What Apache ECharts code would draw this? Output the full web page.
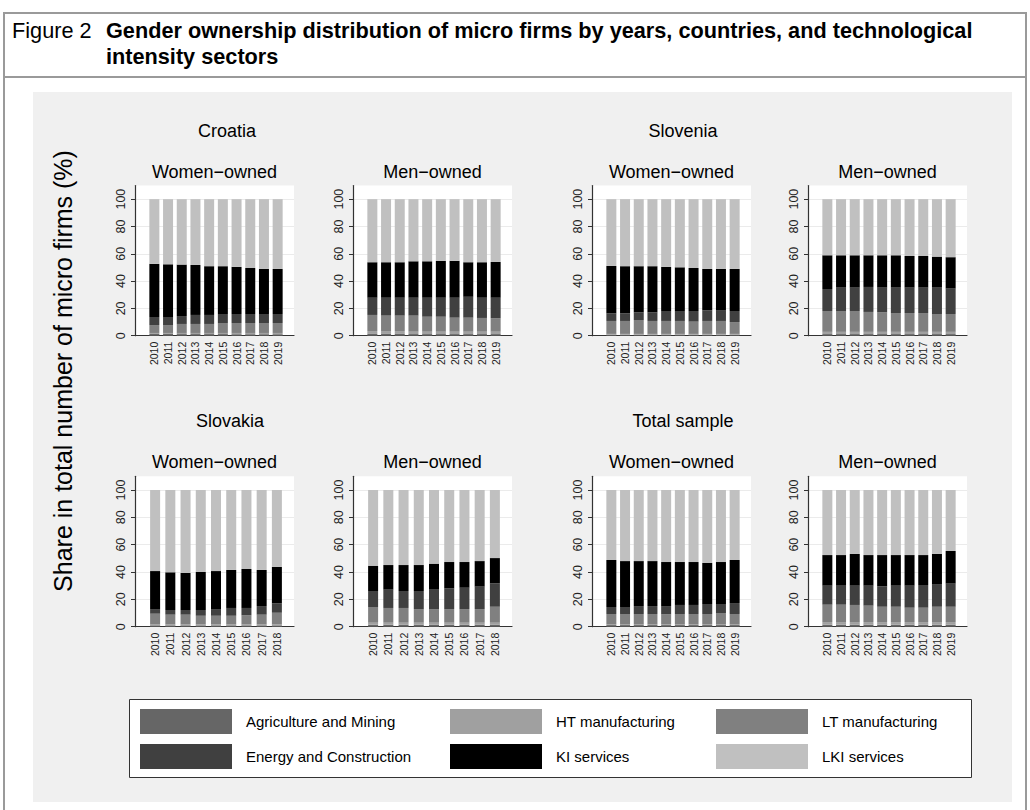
<!DOCTYPE html>
<html>
<head>
<meta charset="utf-8">
<script src="https://cdn.jsdelivr.net/npm/echarts@6/dist/echarts.min.js"></script>
<style>
html,body{margin:0;padding:0;background:#fff;}
#wrap{position:relative;width:1030px;height:810px;overflow:hidden;font-family:'Liberation Sans',Arial,sans-serif;color:#000;}
#frame{position:absolute;left:3px;top:12px;width:1020px;height:840px;border:2px solid #9a9a9a;}
#sep{position:absolute;left:3px;top:76px;width:1024px;height:2px;background:#9a9a9a;}
#head1{position:absolute;left:12px;top:18px;font-size:21.7px;line-height:26px;white-space:nowrap;}
#head2{position:absolute;left:106px;top:18px;font-size:21.7px;line-height:26px;font-weight:bold;white-space:nowrap;}
#gray{position:absolute;left:33px;top:92px;width:979px;height:710px;background:#f0f0f0;}
#chart{position:absolute;left:0;top:0;width:1030px;height:810px;}
</style>
</head>
<body>
<div id="wrap">
  <div id="frame"></div>
  <div id="sep"></div>
  <div id="head1">Figure 2</div>
  <div id="head2">Gender ownership distribution of micro firms by years, countries, and technological<br>intensity sectors</div>
  <div id="gray"></div>
  <div id="chart"></div>
</div>
<script>
// ---------- data ----------
const sectorNames = ['Agriculture and Mining', 'HT manufacturing', 'LT manufacturing',
                     'Energy and Construction', 'KI services', 'LKI services'];
const years2010to2019 = ['2010','2011','2012','2013','2014','2015','2016','2017','2018','2019'];
const years2010to2018 = ['2010','2011','2012','2013','2014','2015','2016','2017','2018'];
const yTickValues = [0, 20, 40, 60, 80, 100];

// rows: Agriculture, HT manuf., LT manuf., Energy & Constr., KI services, LKI services (shares, %)
const croatiaWomen = [
  [1.3,1.3,1.2,1.2,1.2,1.2,1.1,1.1,1.1,1.1],
  [0.7,0.7,0.8,0.8,0.8,0.8,0.9,0.9,0.9,0.9],
  [5.8,5.8,6.6,6.6,6.6,7.3,7.3,7.3,7.3,7.3],
  [5.9,5.9,5.8,6.6,6.6,6.6,6.6,6.6,6.6,6.6],
  [38.9,38.6,37.7,36.6,35.7,35.0,34.5,33.7,33.0,33.0],
  [47.4,47.7,47.9,48.2,49.1,49.1,49.6,50.4,51.1,51.1]
];
const croatiaMen = [
  [1.3,1.3,1.3,1.2,1.2,1.2,1.2,1.2,1.2,1.2],
  [2.1,2.1,2.1,1.7,1.7,1.7,1.7,1.7,1.7,1.7],
  [11.8,11.3,11.3,11.8,11.0,11.0,10.3,10.3,10.1,9.9],
  [12.6,13.1,13.1,13.1,13.9,13.9,14.6,15.3,14.8,15.0],
  [26.0,26.0,26.0,26.7,26.7,27.0,27.0,25.3,26.0,26.2],
  [46.2,46.2,46.2,45.5,45.5,45.2,45.2,46.2,46.2,46.0]
];
const sloveniaWomen = [
  [0.8,0.8,0.8,0.8,0.8,0.8,0.8,0.8,0.8,0.8],
  [0.5,0.5,0.5,0.5,0.5,0.5,0.5,0.5,0.5,0.5],
  [9.5,9.5,10.2,9.5,9.5,9.5,9.0,9.5,9.5,8.7],
  [5.6,5.6,5.6,6.3,7.3,7.3,7.8,7.8,8.0,8.1],
  [34.7,34.5,33.8,33.8,32.3,32.0,31.5,30.3,30.1,30.8],
  [48.9,49.1,49.1,49.1,49.6,49.9,50.4,51.1,51.1,51.1]
];
const sloveniaMen = [
  [1.2,1.2,1.2,1.2,1.2,1.2,1.2,1.2,1.2,1.2],
  [1.6,1.6,1.6,1.6,1.6,1.6,1.6,1.6,1.6,1.6],
  [15.3,15.3,15.3,14.6,14.3,13.8,13.8,13.8,13.1,13.1],
  [16.1,17.1,17.1,18.3,18.1,18.6,18.6,18.6,19.3,18.6],
  [24.7,23.7,23.7,23.2,23.7,23.7,23.2,23.2,22.7,23.0],
  [41.1,41.1,41.1,41.1,41.1,41.1,41.6,41.6,42.1,42.5]
];
const slovakiaWomen = [
  [1.0,1.0,1.0,1.0,1.0,1.0,1.0,1.0,1.0],
  [0.6,0.6,0.6,0.6,0.6,0.6,0.6,0.6,0.6],
  [7.9,7.2,7.2,6.4,6.4,6.4,6.7,7.2,8.6],
  [3.4,3.4,3.4,4.2,4.9,5.7,5.4,6.3,6.9],
  [27.8,27.6,27.1,27.8,27.8,27.8,28.5,26.4,26.6],
  [59.3,60.2,60.7,60.0,59.3,58.5,57.8,58.5,56.3]
];
const slovakiaMen = [
  [1.4,1.4,1.4,1.4,1.4,1.4,1.4,1.4,1.4],
  [1.5,1.5,1.5,1.5,1.5,1.5,1.5,1.5,1.5],
  [11.5,10.8,10.8,10.0,10.0,10.0,10.0,10.0,11.7],
  [11.7,13.4,12.4,13.2,14.2,15.1,15.6,16.4,17.1],
  [18.5,18.0,19.0,19.0,19.0,19.3,18.8,18.7,18.5],
  [55.4,54.9,54.9,54.9,53.9,52.7,52.7,52.0,49.8]
];
const totalWomen = [
  [1.2,1.2,1.2,1.2,1.2,1.2,1.2,1.2,1.2,1.2],
  [0.7,0.7,0.7,0.7,0.7,0.7,0.7,0.7,0.7,0.7],
  [7.4,7.4,7.4,7.4,7.1,7.4,7.4,7.4,8.1,7.4],
  [5.1,5.1,5.8,5.8,6.1,6.6,6.6,7.3,6.6,8.0],
  [34.4,33.6,32.9,32.9,32.2,31.4,31.4,30.0,30.7,31.5],
  [51.2,52.0,52.0,52.0,52.7,52.7,52.7,53.4,52.7,51.2]
];
const totalMen = [
  [1.5,1.5,1.5,1.5,1.5,1.5,1.5,1.5,1.5,1.5],
  [1.9,1.9,1.9,1.9,1.9,1.9,1.9,1.9,1.9,1.9],
  [12.7,12.7,12.5,12.0,11.2,11.2,10.5,10.5,11.2,11.2],
  [13.9,13.9,14.1,14.6,14.9,15.4,16.1,16.6,16.6,16.9],
  [22.4,22.4,23.2,22.4,22.9,22.4,22.4,21.9,22.0,23.9],
  [47.6,47.6,46.8,47.6,47.6,47.6,47.6,47.6,46.8,44.6]
];

// ---------- styling / layout ----------
const FONT = "'Liberation Sans', Arial, sans-serif";
const sectorColors = ['#666666', '#a0a0a0', '#808080', '#404040', '#000000', '#c0c0c0'];
const W_TITLE = 'Women\u2212owned', M_TITLE = 'Men\u2212owned';
const ROW1 = {top: 185.5, height: 150.2}, ROW2 = {top: 476.3, height: 150.4};
const panels = [
  {data: croatiaWomen,  years: years2010to2019, left: 135, row: ROW1, sub: W_TITLE},
  {data: croatiaMen,    years: years2010to2019, left: 353, row: ROW1, sub: M_TITLE},
  {data: sloveniaWomen, years: years2010to2019, left: 592, row: ROW1, sub: W_TITLE},
  {data: sloveniaMen,   years: years2010to2019, left: 808, row: ROW1, sub: M_TITLE},
  {data: slovakiaWomen, years: years2010to2018, left: 135, row: ROW2, sub: W_TITLE},
  {data: slovakiaMen,   years: years2010to2018, left: 353, row: ROW2, sub: M_TITLE},
  {data: totalWomen,    years: years2010to2019, left: 592, row: ROW2, sub: W_TITLE},
  {data: totalMen,      years: years2010to2019, left: 808, row: ROW2, sub: M_TITLE}
];
const countryTitles = [
  {text: 'Croatia', x: 227, y: 131}, {text: 'Slovenia', x: 683, y: 131},
  {text: 'Slovakia', x: 230, y: 421}, {text: 'Total sample', x: 683, y: 421}
];
const FRAME_W = 159, BAR_OFF = 12.5, BAR_W = 137;

const grid = [], xAxis = [], yAxis = [], series = [], graphic = [];
const axisColor = '#333';

panels.forEach((p, i) => {
  const fg = 2 * i, bg = 2 * i + 1;
  grid.push({left: p.left, top: p.row.top, width: FRAME_W, height: p.row.height,
             show: true, backgroundColor: '#ffffff', borderWidth: 0});
  grid.push({left: p.left + BAR_OFF, top: p.row.top, width: BAR_W, height: p.row.height});
  xAxis.push({gridIndex: fg, type: 'value', min: 0, max: 1,
              axisLine: {show: true, onZero: false, lineStyle: {color: axisColor, width: 1.2}},
              axisTick: {show: false}, axisLabel: {show: false}, splitLine: {show: false}});
  yAxis.push({gridIndex: fg, type: 'value', min: 0, max: 110, interval: 20,
              axisLine: {show: true, onZero: false, lineStyle: {color: axisColor, width: 1.2}},
              axisTick: {show: true, length: 4, lineStyle: {color: axisColor}, customValues: yTickValues},
              axisLabel: {rotate: 90, fontSize: 12.5, color: '#222', margin: 8, fontFamily: FONT,
                          customValues: yTickValues},
              splitLine: {show: true, lineStyle: {color: '#ebebeb', width: 1}}});
  xAxis.push({gridIndex: bg, type: 'category', data: p.years,
              axisLine: {show: false}, axisTick: {show: false}, splitLine: {show: false},
              axisLabel: {rotate: 90, fontSize: 10.5, color: '#222', margin: 6, interval: 0, fontFamily: FONT}});
  yAxis.push({gridIndex: bg, type: 'value', min: 0, max: 110, show: false});
  sectorNames.forEach((name, s) => {
    series.push({type: 'bar', name: name, xAxisIndex: bg, yAxisIndex: bg, stack: 'panel' + i,
                 data: p.data[s], barWidth: 10, itemStyle: {color: sectorColors[s]},
                 emphasis: {disabled: true}, silent: true, animation: false});
  });
  graphic.push({type: 'text', x: p.left + FRAME_W / 2, y: p.row.top - 14,
                style: {text: p.sub, font: '18px ' + FONT, fill: '#000',
                        textAlign: 'center', textVerticalAlign: 'middle'}});
});

countryTitles.forEach(t => {
  graphic.push({type: 'text', x: t.x, y: t.y,
                style: {text: t.text, font: '18px ' + FONT, fill: '#000',
                        textAlign: 'center', textVerticalAlign: 'middle'}});
});
graphic.push({type: 'text', x: 63, y: 371, rotation: Math.PI / 2,
              style: {text: 'Share in total number of micro firms (%)', font: '25px ' + FONT, fill: '#000',
                      textAlign: 'center', textVerticalAlign: 'middle'}});
graphic.push({type: 'rect', z: -1, shape: {x: 129.5, y: 699.5, width: 842, height: 78},
              style: {fill: '#ffffff', stroke: '#333', lineWidth: 1}});

const legendBase = {orient: 'vertical', itemWidth: 92, itemHeight: 25, itemGap: 10, padding: 0,
                    icon: 'rect', selectedMode: false, top: 709, z: 5,
                    textStyle: {fontSize: 15, color: '#000', fontFamily: FONT, padding: [0, 0, 0, 9]}};
const legend = [
  Object.assign({}, legendBase, {left: 140, data: [sectorNames[0], sectorNames[3]]}),
  Object.assign({}, legendBase, {left: 450, data: [sectorNames[1], sectorNames[4]]}),
  Object.assign({}, legendBase, {left: 716, data: [sectorNames[2], sectorNames[5]]})
];

const chart = echarts.init(document.getElementById('chart'), null, {renderer: 'svg'});
chart.setOption({
  backgroundColor: 'transparent',
  animation: false,
  textStyle: {fontFamily: FONT},
  grid: grid, xAxis: xAxis, yAxis: yAxis, series: series,
  legend: legend, graphic: graphic, tooltip: {show: false}
});
</script>
</body>
</html>
